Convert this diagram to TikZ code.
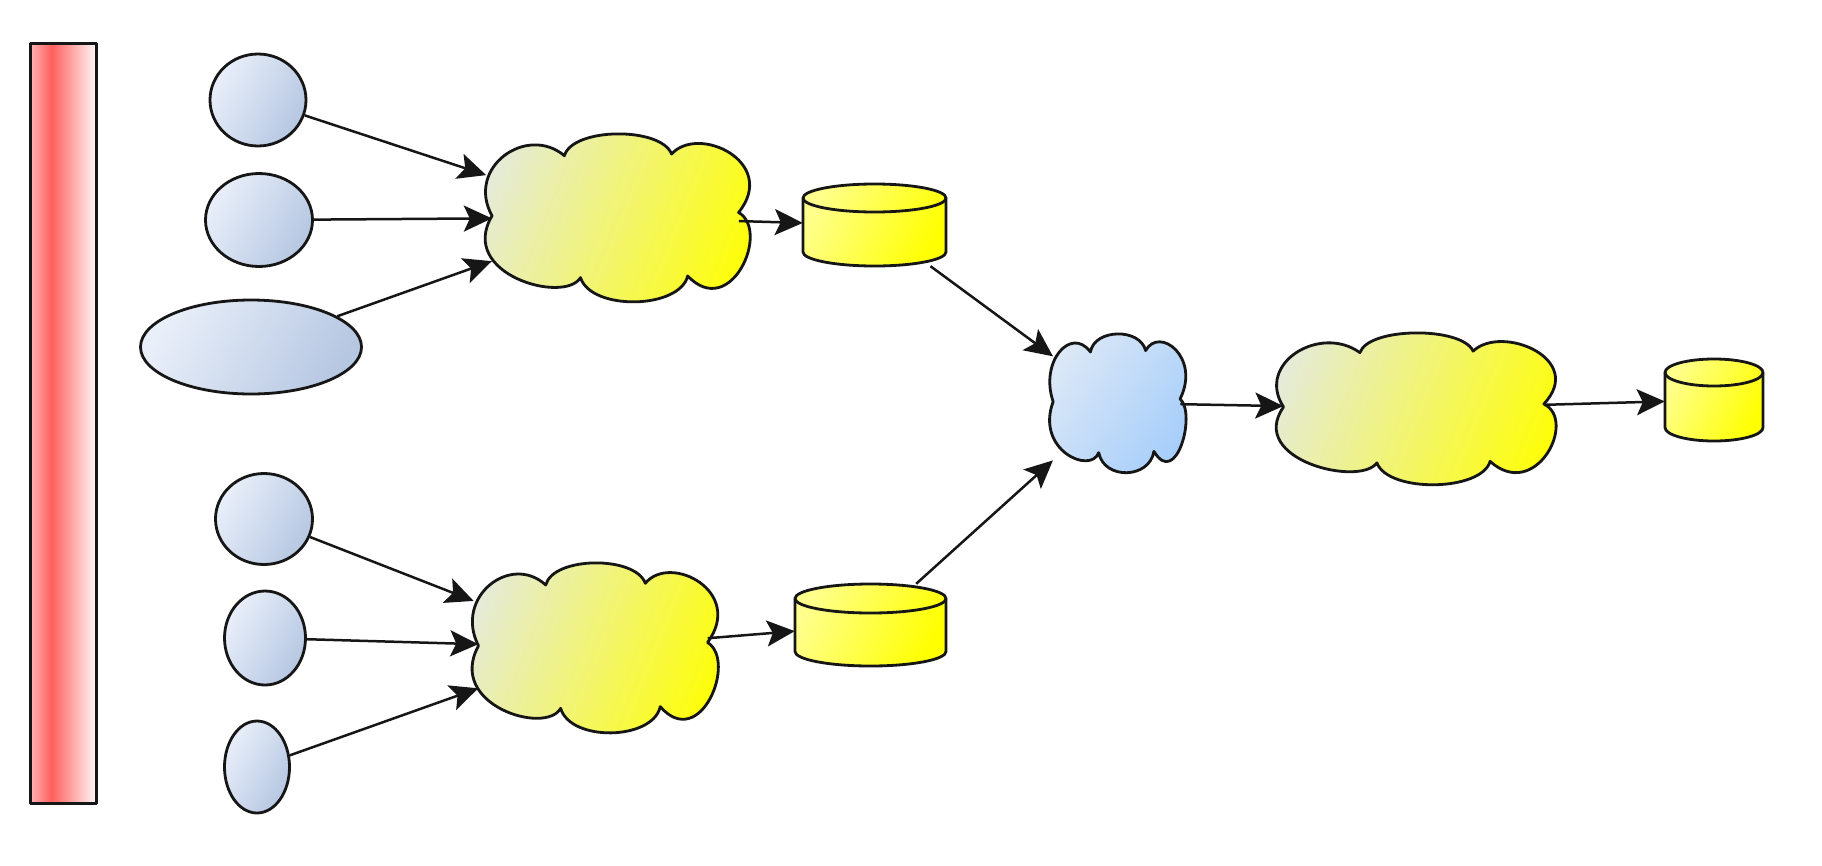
\documentclass[tikz,border=0pt]{standalone}
\usetikzlibrary{shapes.geometric,arrows.meta}
\definecolor{circL}{RGB}{233,239,249}
\definecolor{circR}{RGB}{182,199,226}
\definecolor{cloudL}{RGB}{228,234,222}
\definecolor{cloudR}{RGB}{255,255,0}
\definecolor{blueL}{RGB}{222,233,246}
\definecolor{blueR}{RGB}{163,204,250}
\definecolor{cylL}{RGB}{255,255,140}
\definecolor{cylR}{RGB}{255,255,0}
\definecolor{barL}{RGB}{255,178,178}
\definecolor{barM}{RGB}{255,95,95}
\definecolor{barR}{RGB}{255,250,250}
\definecolor{edge}{RGB}{22,22,22}
\pgfdeclarehorizontalshading{barshade}{100bp}{color(0bp)=(barL); color(25bp)=(barL); color(41bp)=(barM); color(75bp)=(barR); color(100bp)=(barR)}
\tikzset{
  outline/.style={draw=edge, line width=2.8pt, line join=round},
  src/.style={outline, ellipse, inner sep=0pt, left color=circL, right color=circR, shading angle=60},
  yfill/.style={outline, left color=cloudL, right color=cloudR, shading angle=68},
  bfill/.style={outline, left color=blueL, right color=blueR, shading angle=55},
  cfill/.style={outline, left color=cylL, right color=cylR, shading angle=65},
  anchorbox/.style={rectangle, inner sep=0pt, draw=none},
  barbox/.style={outline, rectangle, inner sep=0pt, shading=barshade},
  conn/.style={line width=2.5pt, draw=edge, -{Stealth[length=28pt,width=26pt,inset=6pt]}},
}
% #1 name, #2 style, #3 left, #4 top, #5 width, #6 height
\newcommand\cloudnode[6]{%
  \path[#2, shift={(#3,#4)}, xscale=#5, yscale=#6]
    (0.03,0.49) .. controls (-0.07,0.20) and (0.16,-0.06) .. (0.30,0.13)
    .. controls (0.33,-0.04) and (0.66,-0.045) .. (0.70,0.12)
    .. controls (0.80,-0.06) and (1.10,0.17) .. (0.95,0.47)
    .. controls (1.07,0.58) and (0.92,1.12) .. (0.76,0.85)
    .. controls (0.73,1.05) and (0.40,1.06) .. (0.36,0.86)
    .. controls (0.30,1.02) and (-0.10,0.84) .. (0.03,0.49) -- cycle;
  \node[anchorbox, minimum width={0.92*#5pt}, minimum height={#6pt}] (#1) at ({#3+0.49*#5},{#4+0.5*#6}) {};
}
% #1 name, #2 left, #3 top, #4 right, #5 bottom, #6 ry
\newcommand\cylnode[6]{%
  \pgfmathsetmacro\cxr{(#4-#2)/2}%
  \path[cfill] (#2,{#3+#6}) -- (#2,{#5-#6})
    arc[start angle=180, end angle=360, x radius=\cxr pt, y radius=#6pt]
    -- (#4,{#3+#6})
    arc[start angle=0, end angle=180, x radius=\cxr pt, y radius=#6pt] -- cycle;
  \draw[outline] (#2,{#3+#6}) arc[start angle=180, end angle=360, x radius=\cxr pt, y radius=#6pt];
  \node[anchorbox, minimum width={(#4-#2)*1pt}, minimum height={(#5-#3)*1pt}] (#1) at ({(#2+#4)/2},{(#3+#5)/2}) {};
}
\begin{document}
\begin{tikzpicture}[x=1pt,y=-1pt]
\fill[white] (0,0) rectangle (1822,865);
\useasboundingbox (0,0) rectangle (1822,865);
\node[barbox, minimum width=66pt, minimum height=760pt] (bar) at (63.5,423.5) {};
\node[src, minimum width=96pt, minimum height=92pt] (c1) at (258,100) {};
\node[src, minimum width=107pt, minimum height=93pt] (c2) at (259,220) {};
\node[src, minimum width=221pt, minimum height=94pt] (e3) at (251,347) {};
\node[src, minimum width=97pt, minimum height=91pt] (c4) at (264,519) {};
\node[src, minimum width=81pt, minimum height=94pt] (c5) at (265,638) {};
\node[src, minimum width=65pt, minimum height=92pt] (c6) at (257,767) {};
\cloudnode{cl1}{yfill}{484}{134}{268}{167}
\cloudnode{cl2}{yfill}{471}{563}{249}{169}
\cloudnode{cl3}{bfill}{1049}{334}{138}{138}
\cloudnode{cl4}{yfill}{1275}{333}{283}{151}
\cylnode{cy1}{803}{184}{946}{266}{14}
\cylnode{cy2}{795}{584}{946}{666}{14.5}
\cylnode{cy3}{1665}{359}{1763}{441}{13.5}
\draw[conn, shorten >=6pt] (c1) -- (cl1);
\draw[conn] (c2) -- (cl1);
\draw[conn] (e3) -- (cl1);
\draw[conn] (cl1) -- (cy1);
\draw[conn] (cy1) -- (cl3);
\draw[conn] (cy2) -- (cl3);
\draw[conn] (cl3) -- (cl4);
\draw[conn] (cl4) -- (cy3);
\draw[conn, shorten >=5pt] (c4) -- (cl2);
\draw[conn] (c5) -- (cl2);
\draw[conn] (c6) -- (cl2);
\draw[conn] (cl2) -- (cy2);
\end{tikzpicture}
\end{document}
